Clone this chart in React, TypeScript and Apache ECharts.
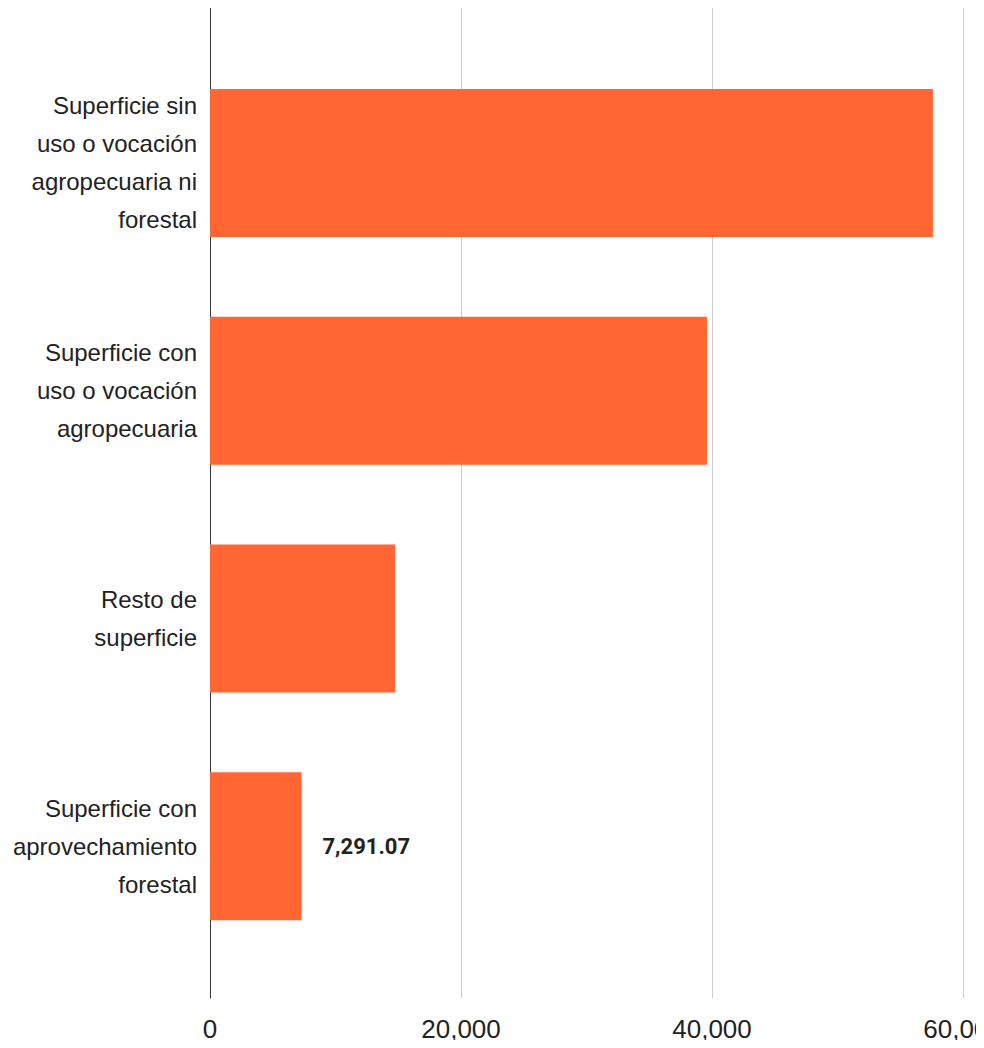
import React, { useEffect, useRef } from "react";
import * as echarts from "echarts";

const categories = [
  "Superficie sin\nuso o vocación\nagropecuaria ni\nforestal",
  "Superficie con\nuso o vocación\nagropecuaria",
  "Resto de\nsuperficie",
  "Superficie con\naprovechamiento\nforestal",
];
const values = [57600, 39600, 14750, 7291.07];
const showLabel = [false, false, false, true];
const xTicks = { min: 0, max: 60000, interval: 20000 };

const FONT = "Liberation Sans";

function fmtThousands(v: number, decimals = 0): string {
  const fixed = v.toFixed(decimals);
  const [intPart, dec] = fixed.split(".");
  const withCommas = intPart.replace(/\B(?=(\d{3})+(?!\d))/g, ",");
  return dec ? withCommas + "." + dec : withCommas;
}

export default function App() {
  const ref = useRef<HTMLDivElement>(null);
  useEffect(() => {
    if (!ref.current) return;
    const chart = echarts.init(ref.current, null, { renderer: "svg" });
    chart.setOption({
      animation: false,
      grid: [
        { left: 210, right: 21, top: 49, height: 911, containLabel: false, outerBoundsMode: "none" },
        { left: 210, right: 21, top: 8, height: 990, containLabel: false, outerBoundsMode: "none" },
      ],
      xAxis: [
        {
          gridIndex: 0,
          type: "value",
          min: xTicks.min,
          max: xTicks.max,
          interval: xTicks.interval,
          show: false,
        },
        {
          gridIndex: 1,
          type: "value",
          min: xTicks.min,
          max: xTicks.max,
          interval: xTicks.interval,
          axisLine: { show: false },
          axisTick: { show: false },
          splitLine: { show: true, lineStyle: { color: "#cccccc", width: 1 } },
          axisLabel: {
            margin: 18,
            fontFamily: FONT,
            fontSize: 26,
            color: "#222222",
            formatter: (v: number) => fmtThousands(v),
          },
        },
      ],
      yAxis: [
        {
          gridIndex: 0,
          type: "category",
          inverse: true,
          data: categories,
          axisLine: { show: false },
          axisTick: { show: false },
          axisLabel: {
            margin: 13,
            fontFamily: FONT,
            fontSize: 24,
            lineHeight: 38,
            color: "#222222",
            align: "right",
          },
        },
        {
          gridIndex: 1,
          type: "category",
          data: [""],
          axisLine: { show: true, onZero: false, lineStyle: { color: "#333333", width: 1 } },
          axisTick: { show: false },
          axisLabel: { show: false },
          splitLine: { show: false },
        },
      ],
      series: [
        {
          type: "bar",
          xAxisIndex: 0,
          yAxisIndex: 0,
          barWidth: 148,
          data: values.map((v, i) => ({
            value: v,
            label: {
              show: showLabel[i],
              position: "right",
              distance: 21,
              fontFamily: "Roboto",
              fontWeight: "bold",
              fontSize: 22,
              color: "#222222",
              formatter: () => fmtThousands(v, 2),
            },
          })),
          itemStyle: { color: "#ff6633" },
        },
      ],
    });
    return () => chart.dispose();
  }, []);
  return <div ref={ref} style={{ width: 984, height: 1048, margin: -8 }} />;
}
